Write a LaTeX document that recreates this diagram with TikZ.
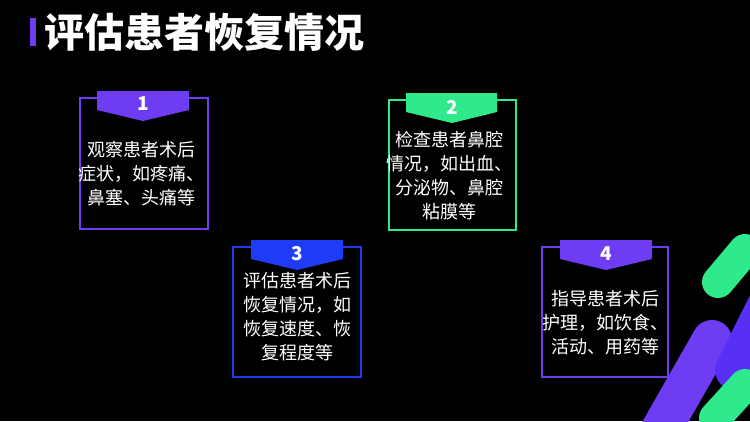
\documentclass[tikz,border=0pt]{standalone}
\usepackage{fontspec}
\setmainfont{Noto Sans CJK SC}
\definecolor{pp}{HTML}{6E3CF2}
\definecolor{gg}{HTML}{2EEA8C}
\definecolor{bb}{HTML}{1E3CF5}
\begin{document}
\begin{tikzpicture}[x=1pt,y=-1pt,
  body/.style={text=white,font=\fontsize{18}{24}\selectfont,align=center,inner sep=0pt},
  num/.style={text=white,font=\bfseries\fontsize{19}{19}\selectfont},
  frame/.style={line width=2.4pt}]
\fill[black] (0,0) rectangle (750,421);
\useasboundingbox (0,0) rectangle (750,421);
% decoration
\begin{scope}
\clip (0,0) rectangle (750,421);
\draw[line width=40pt,line cap=round,color=pp] (655,440) -- (712,340);
\draw[line width=32pt,line cap=round,color=gg] (718,282) -- (745,250);
\draw[line width=40pt,line cap=round,color=pp!80!blue] (735,370) -- (775,290);
\draw[line width=32pt,line cap=round,color=gg] (715,418) -- (745,385);
\end{scope}
% title
\fill[pp] (30,18) rectangle (36,46);
\node[anchor=west,text=white,font=\bfseries\fontsize{40}{40}\selectfont] (title) at (41,32) {评估患者恢复情况};
% box 1
\draw[frame,pp] (97,98) -| (80,229) -| (208,98) -- (189,98);
\fill[pp] (97,91) -- (189,91) -- (189,110) -- (143,121) -- (97,110) -- cycle;
\node[num] (n1) at (143,104) {1};
\node[body] (t1) at (141,174) {观察患者术后\\症状，如疼痛、\\鼻塞、头痛等};
% box 2
\draw[frame,gg] (406,100) -| (389,230) -| (516,100) -- (497,100);
\fill[gg] (406,93) -- (497,93) -- (497,112) -- (452,123) -- (406,112) -- cycle;
\node[num] (n2) at (452,107) {2};
\node[body] (t2) at (449,176) {检查患者鼻腔\\情况，如出血、\\分泌物、鼻腔\\粘膜等};
% box 3
\draw[frame,bb] (251,247) -| (233,377) -| (361,247) -- (343,247);
\fill[bb] (251,240) -- (343,240) -- (343,259) -- (297,270) -- (251,259) -- cycle;
\node[num] (n3) at (297,254) {3};
\node[body] (t3) at (297,317) {评估患者术后\\恢复情况，如\\恢复速度、恢\\复程度等};
% box 4
\draw[frame,pp] (560,247) -| (542,377) -| (668,247) -- (652,247);
\fill[pp] (560,240) -- (652,240) -- (652,259) -- (606,270) -- (560,259) -- cycle;
\node[num] (n4) at (606,254) {4};
\node[body] (t4) at (605,323) {指导患者术后\\护理，如饮食、\\活动、用药等};
\end{tikzpicture}
\end{document}
